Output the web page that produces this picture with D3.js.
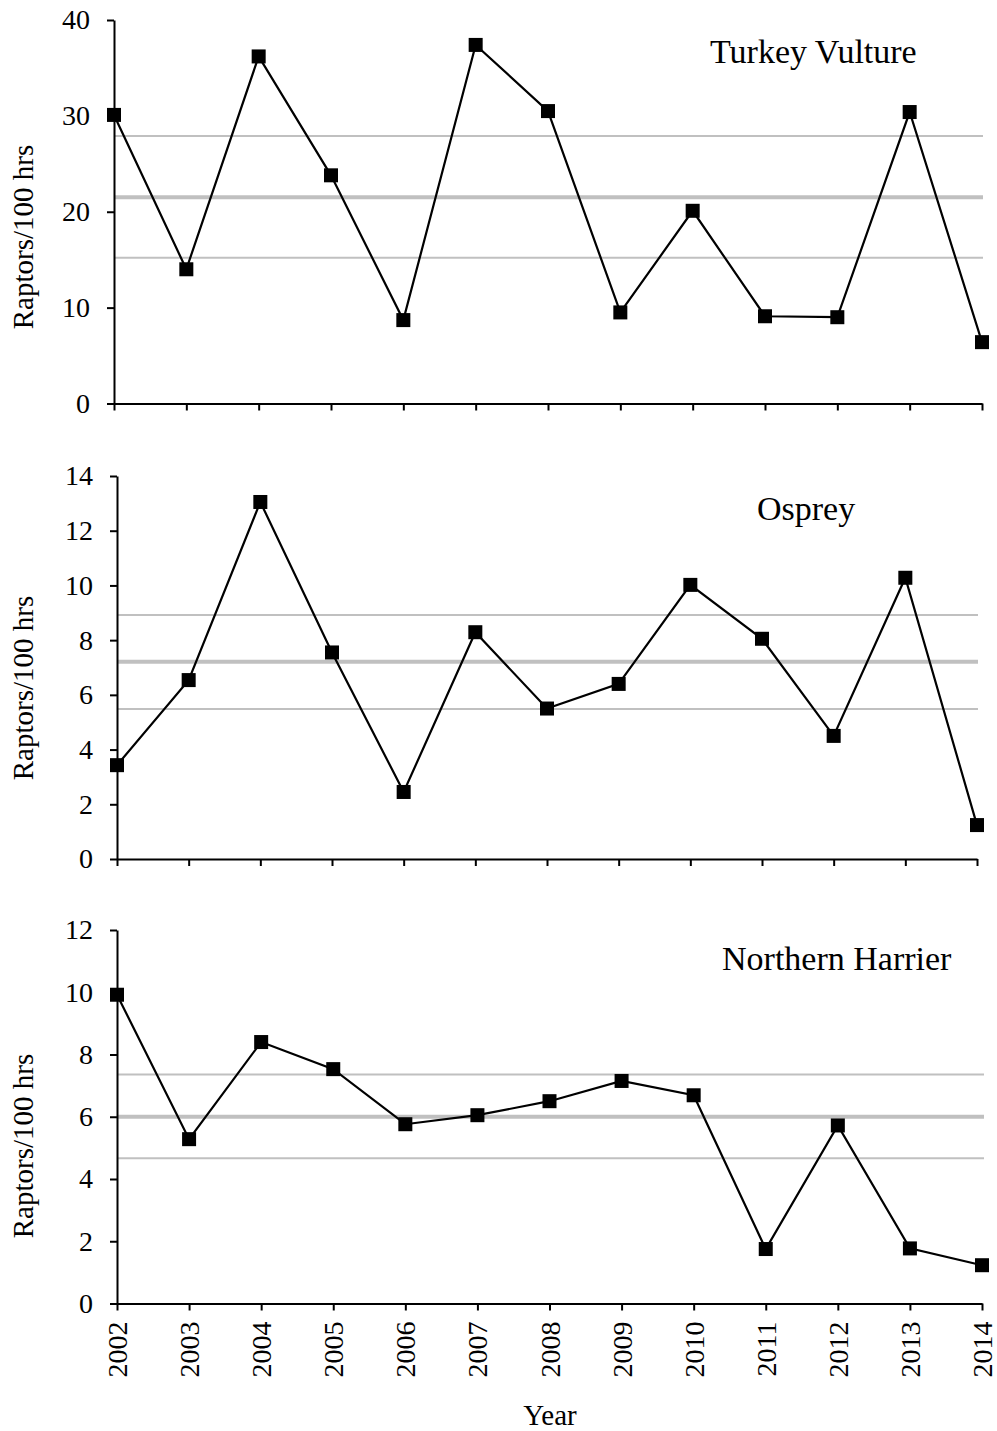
<!DOCTYPE html>
<html>
<head>
<meta charset="utf-8">
<script src="https://cdn.jsdelivr.net/npm/d3@7"></script>
<style>
  body { margin: 0; background: #fff; }
  svg text { font-family: "Liberation Serif", "Times New Roman", serif; fill: #000; }
</style>
</head>
<body>
<script>
// data
const years = [2002, 2003, 2004, 2005, 2006, 2007, 2008, 2009, 2010, 2011, 2012, 2013, 2014];
const turkeyVulture = [30.1, 14.0, 36.2, 23.8, 8.7, 37.4, 30.5, 9.5, 20.1, 9.1, 9.0, 30.4, 6.4];
const osprey = [3.43, 6.54, 13.05, 7.55, 2.45, 8.29, 5.5, 6.4, 10.02, 8.05, 4.5, 10.28, 1.24];
const northernHarrier = [9.92, 5.28, 8.4, 7.53, 5.76, 6.05, 6.5, 7.15, 6.69, 1.75, 5.72, 1.77, 1.23];
// mean and +/- lines (lower, mean, upper)
const tvBand = [15.2, 21.5, 27.9];
const ospreyBand = [5.48, 7.21, 8.92];
const nhBand = [4.67, 6.0, 7.36];
const tvTicks = [0, 10, 20, 30, 40];
const ospreyTicks = [0, 2, 4, 6, 8, 10, 12, 14];
const nhTicks = [0, 2, 4, 6, 8, 10, 12];

const width = 997, height = 1431;
const serif = "'Liberation Serif', 'Times New Roman', serif";

const svg = d3.select("body").append("svg")
  .attr("width", width)
  .attr("height", height)
  .attr("font-family", serif);

const panels = [
  {name: "Turkey Vulture", values: turkeyVulture, band: tvBand, ticks: tvTicks, max: 40,
   x0: 114, x1: 982, y0: 403.5, y1: 20, lineEnd: 983, titleX: 710, titleY: 63, labelY: 237, showYears: false},
  {name: "Osprey", values: osprey, band: ospreyBand, ticks: ospreyTicks, max: 14,
   x0: 117, x1: 977, y0: 859, y1: 476, lineEnd: 978, titleX: 757, titleY: 520, labelY: 688, showYears: false},
  {name: "Northern Harrier", values: northernHarrier, band: nhBand, ticks: nhTicks, max: 12,
   x0: 117, x1: 982, y0: 1303.5, y1: 930, lineEnd: 984, titleX: 722, titleY: 970, labelY: 1146, showYears: true}
];

panels.forEach(p => {
  const x = d3.scaleLinear().domain([2002, 2014]).range([p.x0, p.x1]);
  const y = d3.scaleLinear().domain([0, p.max]).range([p.y0, p.y1]);
  const g = svg.append("g");

  // gray reference lines
  g.selectAll("line.band")
    .data(p.band)
    .enter()
    .append("line")
      .attr("class", "band")
      .attr("x1", p.x0)
      .attr("x2", p.lineEnd)
      .attr("y1", d => y(d))
      .attr("y2", d => y(d))
      .attr("stroke", "#c0c0c0")
      .attr("stroke-width", (d, i) => i == 1 ? 4 : 2);

  // y axis
  const yAxis = d3.axisLeft(y)
    .tickValues(p.ticks)
    .tickSize(7)
    .tickSizeOuter(0)
    .tickPadding(17)
    .tickFormat(d3.format("d"));
  const ya = g.append("g")
    .attr("transform", `translate(${p.x0},0)`)
    .call(yAxis)
    .attr("font-family", serif)
    .attr("font-size", 28);
  ya.select(".domain").attr("stroke-width", 2);
  ya.selectAll(".tick line").attr("stroke-width", 2);

  // x axis
  const xAxis = d3.axisBottom(x)
    .tickValues(years)
    .tickSize(7)
    .tickSizeOuter(0)
    .tickFormat(p.showYears ? d3.format("d") : "");
  const xa = g.append("g")
    .attr("transform", `translate(0,${p.y0})`)
    .call(xAxis)
    .attr("font-family", serif)
    .attr("font-size", 28);
  xa.select(".domain").attr("stroke-width", 2);
  xa.selectAll(".tick line").attr("stroke-width", 2);
  if (p.showYears) {
    xa.selectAll(".tick text")
      .attr("text-anchor", "end")
      .attr("transform", "rotate(-90)")
      .attr("x", -18)
      .attr("y", 0)
      .attr("dy", "0.34em");
  }

  // data line
  const line = d3.line()
    .x((d, i) => x(years[i]))
    .y(d => y(d));
  g.append("path")
    .datum(p.values)
    .attr("fill", "none")
    .attr("stroke", "#000")
    .attr("stroke-width", 2.2)
    .attr("d", line);

  const size = 14;
  g.selectAll("rect.marker")
    .data(p.values)
    .enter()
    .append("rect")
      .attr("class", "marker")
      .attr("x", (d, i) => x(years[i]) - size / 2)
      .attr("y", d => y(d) - size / 2)
      .attr("width", size)
      .attr("height", size)
      .attr("fill", "#000");

  // species name
  g.append("text")
    .attr("x", p.titleX)
    .attr("y", p.titleY)
    .attr("font-size", 34)
    .text(p.name);

  // y label
  g.append("text")
    .attr("transform", `translate(33,${p.labelY}) rotate(-90)`)
    .attr("text-anchor", "middle")
    .attr("font-size", 29)
    .text("Raptors/100 hrs");
});

svg.append("text")
  .attr("x", 550)
  .attr("y", 1425)
  .attr("text-anchor", "middle")
  .attr("font-size", 29)
  .text("Year");
</script>
</body>
</html>
